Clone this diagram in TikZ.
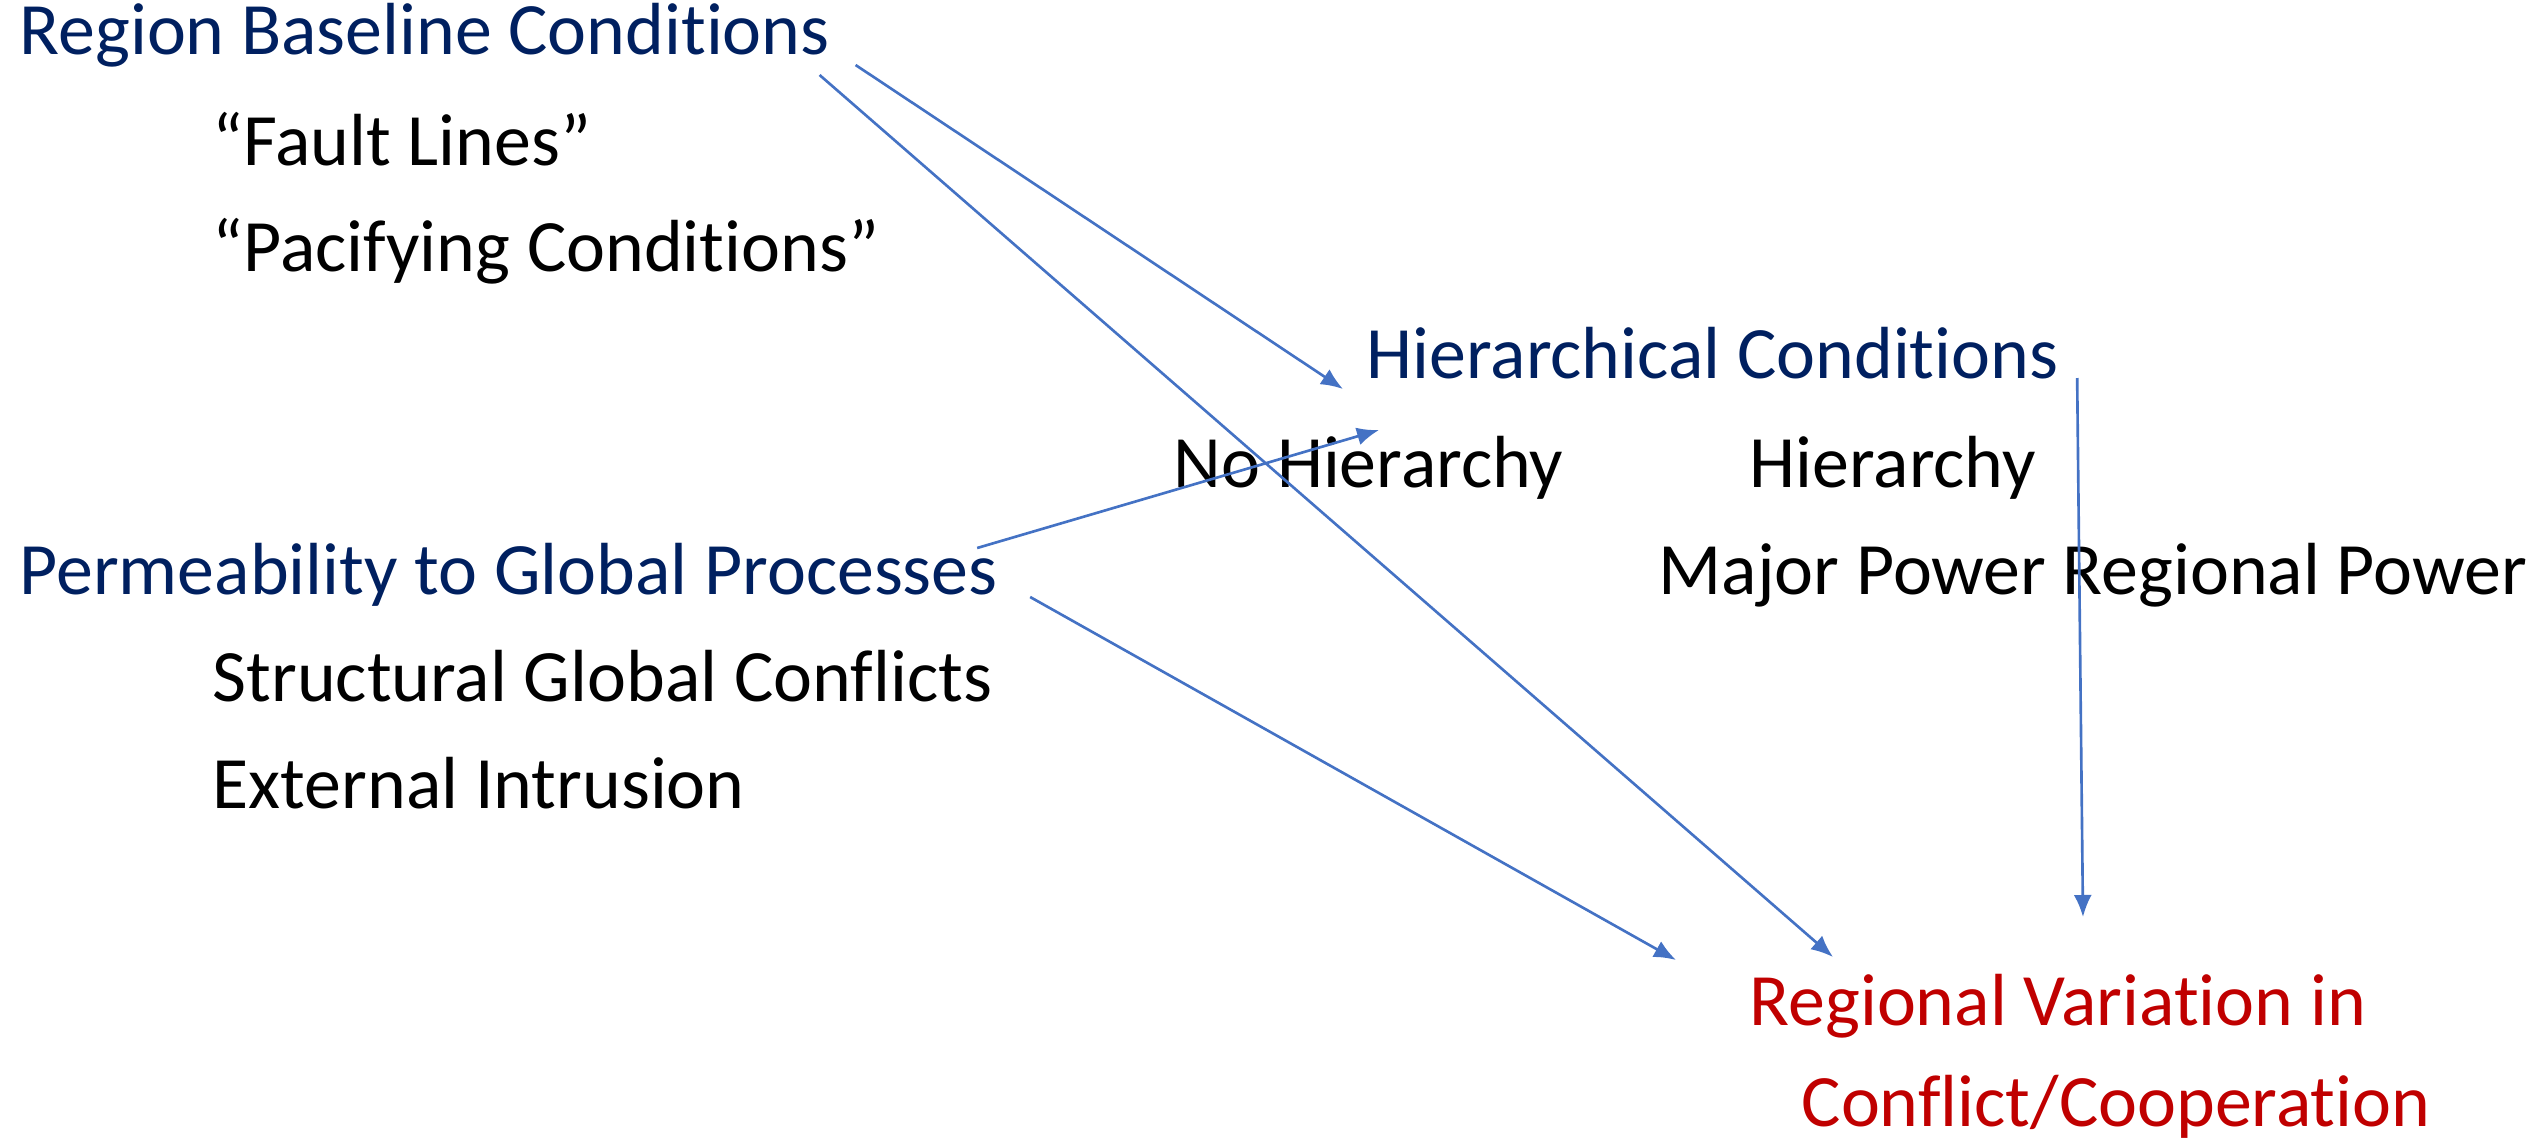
\documentclass[tikz,border=0pt]{standalone}
\usepackage{fontspec}
\setmainfont{Carlito}[Ligatures=NoCommon]
\usetikzlibrary{arrows.meta}
\definecolor{headblue}{HTML}{002060}
\definecolor{outred}{HTML}{C00000}
\definecolor{arrowblue}{HTML}{4472C4}
\begin{document}
\begin{tikzpicture}[x=0.01cm,
					y=-0.01cm,
					>={Latex[length=2.2mm,width=1.8mm]},
					every node/.style={inner sep=0pt,anchor=base west,font=\fontsize{21}{25}\selectfont},
					head node/.style={text=headblue},
					item node/.style={text=black},
					result node/.style={text=outred},
					link/.style={->,draw=arrowblue,line width=0.75pt}]

  \useasboundingbox (0,0) rectangle (2544,1142);

  % left column
  \node[head node] (rbc) at (19,54) {Region Baseline Conditions};
  \node[item node] (fault) at (212,165) {“Fault Lines”};
  \node[item node] (pacify) at (212,271) {“Pacifying Conditions”};
  \node[head node] (perm) at (19,594) {Permeability to Global Processes};
  \node[item node] (struct) at (212,701) {Structural Global Conflicts};
  \node[item node] (extern) at (212,808) {External Intrusion};

  % right column
  \node[head node] (hier) at (1366,378) {Hierarchical Conditions};
  \node[item node] (nohier) at (1173,487) {No Hierarchy};
  \node[item node] (yeshier) at (1749,487) {Hierarchy};
  \node[item node] (power) at (1658,594) {Major Power Regional Power};
  \node[result node] (rvar) at (1749,1025) {Regional Variation in};
  \node[result node] (rvarb) at (1801,1126) {Conflict/Cooperation};

  % arrows
  \draw[link] ([shift={(25,11)}]rbc.base east) -- ([shift={(-23,11)}]hier.base west);
  \draw[link] ([shift={(-11,21)}]rbc.base east) -- ([shift={(84,-68)}]rvar.base west);
  \draw[link] ([shift={(-21,-46)}]perm.base east) -- ([shift={(13,52)}]hier.base west);
  \draw[link] ([shift={(32,3)}]perm.base east) -- ([shift={(-73,-65)}]rvar.base west);
  \draw[link] ([shift={(18,0)}]hier.base east) -- ([shift={(334,-108)}]rvar.base west);
\end{tikzpicture}
\end{document}
